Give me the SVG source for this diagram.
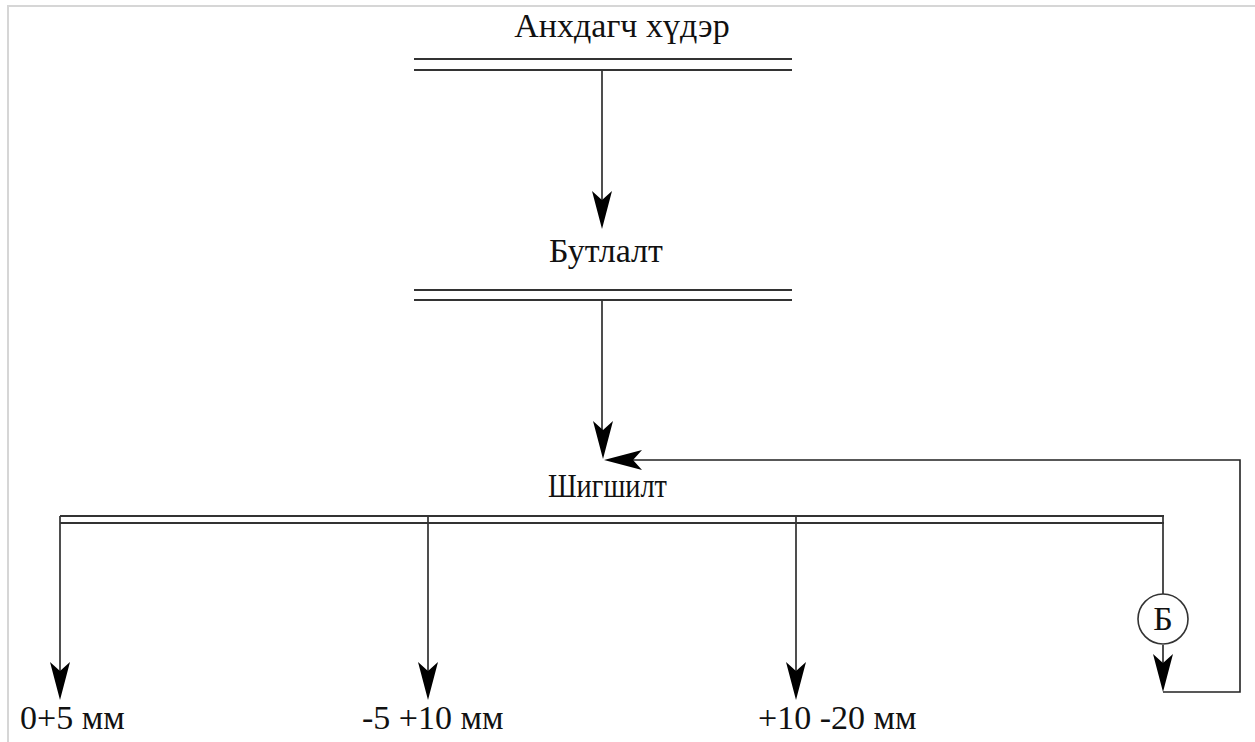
<svg xmlns="http://www.w3.org/2000/svg" width="1255" height="742" viewBox="0 0 1255 742">
<style>
.t{font-family:"Liberation Serif","Times New Roman",Times,serif;font-size:34px;fill:#111}
.ln{stroke:#222;stroke-width:1.6;fill:none}
.dl{stroke:#333;stroke-width:2;fill:none}
.frame{stroke:#d6d6d6;stroke-width:2;fill:none}
</style>
<defs>
<path id="ah" d="M0,0 L-10,-38 L0,-29 L10,-38 Z" fill="#000"/>
</defs>
<rect width="1255" height="742" fill="#fff"/>
<path class="frame" d="M8,742 V6 H1255"/>
<g id="connectors">
<line class="ln" x1="602" y1="70" x2="602" y2="215"/>
<use href="#ah" transform="translate(602,229)"/>
<line class="ln" x1="602" y1="300" x2="602" y2="445"/>
<use href="#ah" transform="translate(603,459)"/>
<path class="ln" d="M1163,645 V680"/>
<use href="#ah" transform="translate(1163,692)"/>
<path class="ln" d="M1163,692 H1240 V460 H630"/>
<use href="#ah" transform="translate(604,460) rotate(90)"/>
<path class="ln" d="M60,516 V686"/>
<use href="#ah" transform="translate(60,700)"/>
<path class="ln" d="M428,516 V686"/>
<use href="#ah" transform="translate(428,700)"/>
<path class="ln" d="M796,516 V686"/>
<use href="#ah" transform="translate(796,700)"/>
<path class="ln" d="M1163,516 V594"/>
</g>
<g id="node-ore">
<text class="t" x="622" y="37" text-anchor="middle">Анхдагч хүдэр</text>
<line class="dl" x1="414" y1="59" x2="792" y2="59"/>
<line class="dl" x1="414" y1="70" x2="792" y2="70"/>
</g>
<g id="node-crush">
<text class="t" x="606" y="262" text-anchor="middle">Бутлалт</text>
<line class="dl" x1="414" y1="290" x2="792" y2="290"/>
<line class="dl" x1="414" y1="300" x2="792" y2="300"/>
</g>
<g id="node-screen">
<text class="t" x="548" y="497" textLength="119" lengthAdjust="spacingAndGlyphs">Шигшилт</text>
<line class="dl" x1="60" y1="516" x2="1164" y2="516"/>
<line class="dl" x1="60" y1="523" x2="1164" y2="523"/>
</g>
<g id="node-b">
<circle cx="1163" cy="619" r="25" fill="#fff" stroke="#333" stroke-width="1.6"/>
<text class="t" x="1163" y="630" text-anchor="middle" font-size="30">Б</text>
</g>
<g id="out1"><text class="t" x="20" y="729">0+5 мм</text></g>
<g id="out2"><text class="t" x="362" y="729">-5 +10 мм</text></g>
<g id="out3"><text class="t" x="758" y="729">+10 -20 мм</text></g>
</svg>
